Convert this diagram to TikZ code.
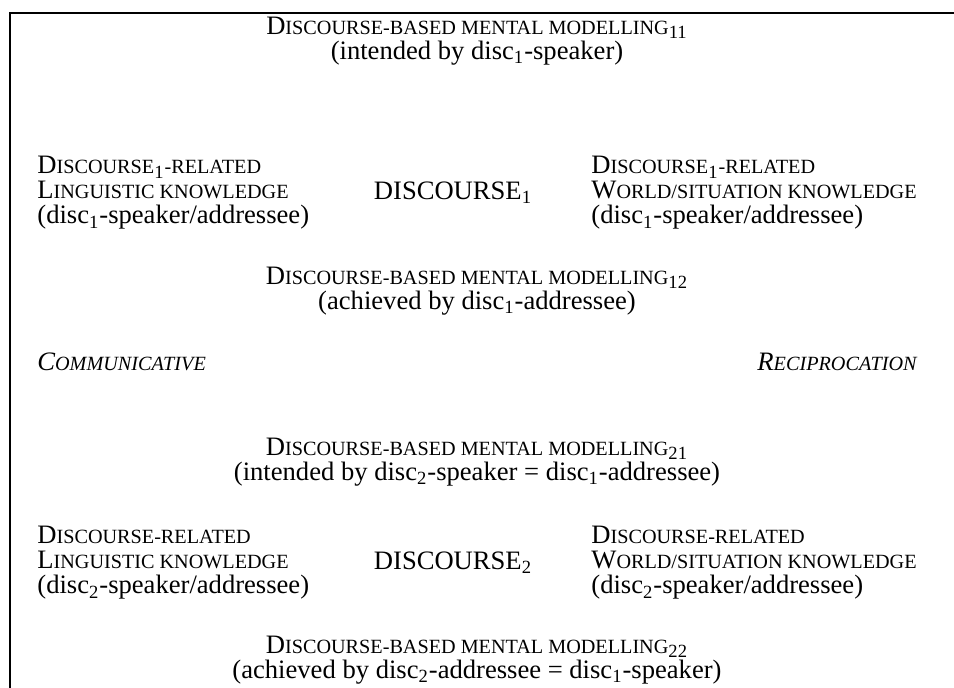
\documentclass[tikz,border=0pt]{standalone}
\usepackage{fontspec}
\setmainfont{Liberation Serif}
\usetikzlibrary{positioning}
\lineskiplimit=-20pt
% fake small capitals
\newcommand\smcaps[1]{{\fontsize{10.1pt}{12.5pt}\selectfont\MakeUppercase{#1}}}
\newcommand\dsub[1]{\textsubscript{#1}}
\begin{document}
\begin{tikzpicture}[x=0.5pt,y=-0.5pt,
        txtnode/.style={inner sep=0pt,align=center,
          font=\fontsize{13.3pt}{12.5pt}\selectfont},
        leftnode/.style={txtnode,align=left,anchor=west},
        rightnode/.style={txtnode,align=right,anchor=east},
        frameline/.style={line width=1.4pt}
        ]
        \useasboundingbox (0,0) rectangle (954,688);
        \draw[frameline] (954,13) -- (10,13) -- (10,688);
        % first discourse
        \node[txtnode] (mm11) at (477,41)
          {D\smcaps{iscourse-based mental modelling}\dsub{11}\\(intended by disc\dsub{1}-speaker)};
        \node[leftnode] (ling1) at (37,193)
          {D\smcaps{iscourse}\dsub{1}\smcaps{-related}\\L\smcaps{inguistic knowledge}\\(disc\dsub{1}-speaker/addressee)};
        \node[txtnode] (disc1) at (453,193) {DISCOURSE\dsub{1}};
        \node[leftnode] (world1) at (591,193)
          {D\smcaps{iscourse}\dsub{1}\smcaps{-related}\\W\smcaps{orld/situation knowledge}\\(disc\dsub{1}-speaker/addressee)};
        \node[txtnode] (mm12) at (477,291)
          {D\smcaps{iscourse-based mental modelling}\dsub{12}\\(achieved by disc\dsub{1}-addressee)};
        % reciprocation
        \node[leftnode,font=\fontsize{13.3pt}{12.5pt}\selectfont\itshape] (comm) at (37,362) {C\smcaps{ommunicative}};
        \node[rightnode,font=\fontsize{13.3pt}{12.5pt}\selectfont\itshape] (recip) at (917,362) {R\smcaps{eciprocation}};
        % second discourse
        \node[txtnode] (mm21) at (477,462)
          {D\smcaps{iscourse-based mental modelling}\dsub{21}\\(intended by disc\dsub{2}-speaker = disc\dsub{1}-addressee)};
        \node[leftnode] (ling2) at (37,563)
          {D\smcaps{iscourse-related}\\L\smcaps{inguistic knowledge}\\(disc\dsub{2}-speaker/addressee)};
        \node[txtnode] (disc2) at (453,563) {DISCOURSE\dsub{2}};
        \node[leftnode] (world2) at (591,563)
          {D\smcaps{iscourse-related}\\W\smcaps{orld/situation knowledge}\\(disc\dsub{2}-speaker/addressee)};
        \node[txtnode] (mm22) at (477,660)
          {D\smcaps{iscourse-based mental modelling}\dsub{22}\\(achieved by disc\dsub{2}-addressee = disc\dsub{1}-speaker)};
      \end{tikzpicture}
\end{document}
